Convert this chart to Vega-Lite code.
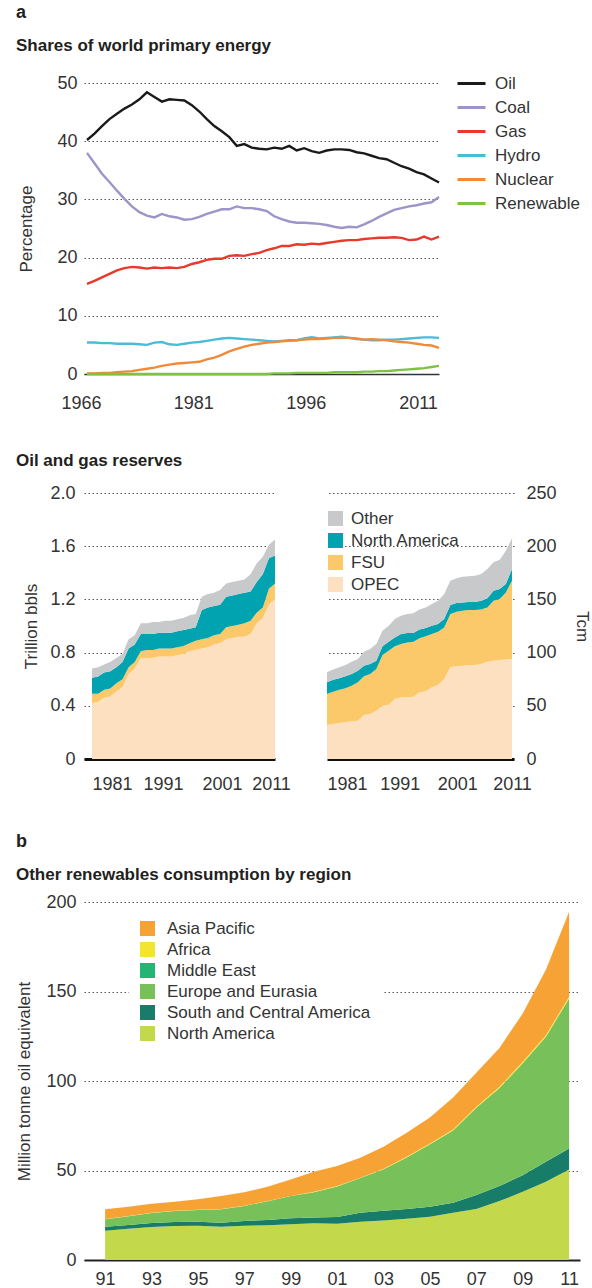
{
  "$schema": "https://vega.github.io/schema/vega-lite/v6.json",
  "background": "white",
  "padding": {"left": 15, "top": 4, "right": 4, "bottom": 0},
  "spacing": 40,
  "resolve": {"scale": {"color": "independent"}, "legend": {"color": "independent"}},
  "config": {
    "view": {"stroke": null},
    "font": "Liberation Sans",
    "axis": {
      "labelFont": "Liberation Sans", "labelFontSize": 18, "labelColor": "#333333", "labelFlush": false,
      "titleFont": "Liberation Sans", "titleFontSize": 17, "titleFontWeight": "normal", "titleColor": "#333333",
      "gridColor": "#555555", "gridDash": [1.5, 2.5], "gridWidth": 1,
      "ticks": false, "domain": false
    },
    "title": {
      "font": "Liberation Sans", "fontSize": 18, "fontWeight": "bold", "color": "#231f20", "anchor": "start",
      "subtitleFont": "Liberation Sans", "subtitleFontSize": 17, "subtitleFontWeight": "bold", "subtitleColor": "#231f20"
    },
    "legend": {"labelFont": "Liberation Sans", "labelFontSize": 17, "labelColor": "#333333", "labelLimit": 300}
  },
  "datasets": {
    "shares": [
      {"year": 1966, "Oil": 40.2, "Coal": 38.0, "Gas": 15.5, "Hydro": 5.4, "Nuclear": 0.1, "Renewable": 0.0},
      {"year": 1967, "Oil": 41.3, "Coal": 36.2, "Gas": 16.0, "Hydro": 5.4, "Nuclear": 0.1, "Renewable": 0.0},
      {"year": 1968, "Oil": 42.6, "Coal": 34.4, "Gas": 16.6, "Hydro": 5.3, "Nuclear": 0.2, "Renewable": 0.0},
      {"year": 1969, "Oil": 43.8, "Coal": 33.0, "Gas": 17.2, "Hydro": 5.3, "Nuclear": 0.2, "Renewable": 0.0},
      {"year": 1970, "Oil": 44.7, "Coal": 31.5, "Gas": 17.8, "Hydro": 5.2, "Nuclear": 0.3, "Renewable": 0.0},
      {"year": 1971, "Oil": 45.6, "Coal": 30.1, "Gas": 18.2, "Hydro": 5.2, "Nuclear": 0.4, "Renewable": 0.0},
      {"year": 1972, "Oil": 46.3, "Coal": 28.8, "Gas": 18.4, "Hydro": 5.2, "Nuclear": 0.5, "Renewable": 0.0},
      {"year": 1973, "Oil": 47.2, "Coal": 27.8, "Gas": 18.3, "Hydro": 5.1, "Nuclear": 0.7, "Renewable": 0.0},
      {"year": 1974, "Oil": 48.4, "Coal": 27.2, "Gas": 18.1, "Hydro": 5.0, "Nuclear": 0.9, "Renewable": 0.0},
      {"year": 1975, "Oil": 47.6, "Coal": 26.9, "Gas": 18.3, "Hydro": 5.4, "Nuclear": 1.1, "Renewable": 0.0},
      {"year": 1976, "Oil": 46.8, "Coal": 27.5, "Gas": 18.2, "Hydro": 5.5, "Nuclear": 1.4, "Renewable": 0.0},
      {"year": 1977, "Oil": 47.2, "Coal": 27.1, "Gas": 18.3, "Hydro": 5.1, "Nuclear": 1.6, "Renewable": 0.0},
      {"year": 1978, "Oil": 47.1, "Coal": 26.9, "Gas": 18.2, "Hydro": 5.0, "Nuclear": 1.8, "Renewable": 0.0},
      {"year": 1979, "Oil": 47.0, "Coal": 26.5, "Gas": 18.4, "Hydro": 5.2, "Nuclear": 1.9, "Renewable": 0.0},
      {"year": 1980, "Oil": 46.2, "Coal": 26.6, "Gas": 18.9, "Hydro": 5.4, "Nuclear": 2.0, "Renewable": 0.0},
      {"year": 1981, "Oil": 45.1, "Coal": 27.0, "Gas": 19.2, "Hydro": 5.5, "Nuclear": 2.1, "Renewable": 0.0},
      {"year": 1982, "Oil": 43.8, "Coal": 27.5, "Gas": 19.6, "Hydro": 5.7, "Nuclear": 2.5, "Renewable": 0.0},
      {"year": 1983, "Oil": 42.6, "Coal": 27.9, "Gas": 19.8, "Hydro": 5.9, "Nuclear": 2.8, "Renewable": 0.0},
      {"year": 1984, "Oil": 41.7, "Coal": 28.3, "Gas": 19.8, "Hydro": 6.1, "Nuclear": 3.3, "Renewable": 0.0},
      {"year": 1985, "Oil": 40.7, "Coal": 28.3, "Gas": 20.3, "Hydro": 6.2, "Nuclear": 3.9, "Renewable": 0.0},
      {"year": 1986, "Oil": 39.2, "Coal": 28.8, "Gas": 20.4, "Hydro": 6.1, "Nuclear": 4.3, "Renewable": 0.0},
      {"year": 1987, "Oil": 39.5, "Coal": 28.5, "Gas": 20.3, "Hydro": 6.0, "Nuclear": 4.7, "Renewable": 0.0},
      {"year": 1988, "Oil": 38.9, "Coal": 28.5, "Gas": 20.6, "Hydro": 5.9, "Nuclear": 5.0, "Renewable": 0.0},
      {"year": 1989, "Oil": 38.7, "Coal": 28.3, "Gas": 20.8, "Hydro": 5.8, "Nuclear": 5.2, "Renewable": 0.0},
      {"year": 1990, "Oil": 38.6, "Coal": 28.0, "Gas": 21.3, "Hydro": 5.7, "Nuclear": 5.4, "Renewable": 0.0},
      {"year": 1991, "Oil": 38.9, "Coal": 27.1, "Gas": 21.6, "Hydro": 5.6, "Nuclear": 5.5, "Renewable": 0.1},
      {"year": 1992, "Oil": 38.7, "Coal": 26.6, "Gas": 22.0, "Hydro": 5.7, "Nuclear": 5.6, "Renewable": 0.1},
      {"year": 1993, "Oil": 39.2, "Coal": 26.2, "Gas": 22.0, "Hydro": 5.8, "Nuclear": 5.7, "Renewable": 0.1},
      {"year": 1994, "Oil": 38.4, "Coal": 26.0, "Gas": 22.3, "Hydro": 5.8, "Nuclear": 5.8, "Renewable": 0.2},
      {"year": 1995, "Oil": 38.8, "Coal": 26.0, "Gas": 22.2, "Hydro": 6.1, "Nuclear": 5.9, "Renewable": 0.2},
      {"year": 1996, "Oil": 38.3, "Coal": 25.9, "Gas": 22.4, "Hydro": 6.3, "Nuclear": 6.0, "Renewable": 0.2},
      {"year": 1997, "Oil": 38.0, "Coal": 25.8, "Gas": 22.3, "Hydro": 6.1, "Nuclear": 6.0, "Renewable": 0.2},
      {"year": 1998, "Oil": 38.4, "Coal": 25.6, "Gas": 22.5, "Hydro": 6.2, "Nuclear": 6.1, "Renewable": 0.2},
      {"year": 1999, "Oil": 38.6, "Coal": 25.3, "Gas": 22.7, "Hydro": 6.3, "Nuclear": 6.2, "Renewable": 0.3},
      {"year": 2000, "Oil": 38.6, "Coal": 25.1, "Gas": 22.9, "Hydro": 6.4, "Nuclear": 6.2, "Renewable": 0.3},
      {"year": 2001, "Oil": 38.5, "Coal": 25.3, "Gas": 23.0, "Hydro": 6.2, "Nuclear": 6.2, "Renewable": 0.3},
      {"year": 2002, "Oil": 38.1, "Coal": 25.2, "Gas": 23.0, "Hydro": 6.0, "Nuclear": 6.1, "Renewable": 0.3},
      {"year": 2003, "Oil": 37.9, "Coal": 25.7, "Gas": 23.2, "Hydro": 5.9, "Nuclear": 5.9, "Renewable": 0.4},
      {"year": 2004, "Oil": 37.5, "Coal": 26.3, "Gas": 23.3, "Hydro": 5.8, "Nuclear": 6.0, "Renewable": 0.4},
      {"year": 2005, "Oil": 37.1, "Coal": 27.0, "Gas": 23.4, "Hydro": 5.8, "Nuclear": 5.9, "Renewable": 0.5},
      {"year": 2006, "Oil": 36.9, "Coal": 27.6, "Gas": 23.4, "Hydro": 5.9, "Nuclear": 5.8, "Renewable": 0.5},
      {"year": 2007, "Oil": 36.3, "Coal": 28.2, "Gas": 23.5, "Hydro": 5.9, "Nuclear": 5.6, "Renewable": 0.6},
      {"year": 2008, "Oil": 35.7, "Coal": 28.5, "Gas": 23.4, "Hydro": 6.0, "Nuclear": 5.5, "Renewable": 0.7},
      {"year": 2009, "Oil": 35.3, "Coal": 28.8, "Gas": 23.0, "Hydro": 6.1, "Nuclear": 5.4, "Renewable": 0.8},
      {"year": 2010, "Oil": 34.7, "Coal": 29.0, "Gas": 23.1, "Hydro": 6.2, "Nuclear": 5.2, "Renewable": 0.9},
      {"year": 2011, "Oil": 34.3, "Coal": 29.3, "Gas": 23.6, "Hydro": 6.3, "Nuclear": 5.0, "Renewable": 1.0},
      {"year": 2012, "Oil": 33.6, "Coal": 29.5, "Gas": 23.1, "Hydro": 6.3, "Nuclear": 4.9, "Renewable": 1.2},
      {"year": 2013, "Oil": 32.9, "Coal": 30.4, "Gas": 23.6, "Hydro": 6.2, "Nuclear": 4.5, "Renewable": 1.4}
    ],
    "oilReserves": [
      {"year": 1981, "OPEC": 0.42, "FSU": 0.07, "North America": 0.12, "Other": 0.07},
      {"year": 1982, "OPEC": 0.43, "FSU": 0.06, "North America": 0.13, "Other": 0.07},
      {"year": 1983, "OPEC": 0.46, "FSU": 0.06, "North America": 0.13, "Other": 0.06},
      {"year": 1984, "OPEC": 0.47, "FSU": 0.06, "North America": 0.13, "Other": 0.07},
      {"year": 1985, "OPEC": 0.51, "FSU": 0.06, "North America": 0.12, "Other": 0.07},
      {"year": 1986, "OPEC": 0.54, "FSU": 0.06, "North America": 0.13, "Other": 0.06},
      {"year": 1987, "OPEC": 0.64, "FSU": 0.05, "North America": 0.14, "Other": 0.07},
      {"year": 1988, "OPEC": 0.68, "FSU": 0.05, "North America": 0.13, "Other": 0.07},
      {"year": 1989, "OPEC": 0.76, "FSU": 0.05, "North America": 0.13, "Other": 0.08},
      {"year": 1990, "OPEC": 0.76, "FSU": 0.06, "North America": 0.12, "Other": 0.08},
      {"year": 1991, "OPEC": 0.76, "FSU": 0.06, "North America": 0.12, "Other": 0.09},
      {"year": 1992, "OPEC": 0.77, "FSU": 0.06, "North America": 0.12, "Other": 0.08},
      {"year": 1993, "OPEC": 0.77, "FSU": 0.06, "North America": 0.12, "Other": 0.09},
      {"year": 1994, "OPEC": 0.77, "FSU": 0.06, "North America": 0.12, "Other": 0.09},
      {"year": 1995, "OPEC": 0.78, "FSU": 0.06, "North America": 0.12, "Other": 0.09},
      {"year": 1996, "OPEC": 0.79, "FSU": 0.06, "North America": 0.12, "Other": 0.09},
      {"year": 1997, "OPEC": 0.81, "FSU": 0.06, "North America": 0.11, "Other": 0.10},
      {"year": 1998, "OPEC": 0.82, "FSU": 0.07, "North America": 0.10, "Other": 0.10},
      {"year": 1999, "OPEC": 0.83, "FSU": 0.07, "North America": 0.22, "Other": 0.10},
      {"year": 2000, "OPEC": 0.84, "FSU": 0.07, "North America": 0.23, "Other": 0.10},
      {"year": 2001, "OPEC": 0.86, "FSU": 0.07, "North America": 0.22, "Other": 0.10},
      {"year": 2002, "OPEC": 0.87, "FSU": 0.07, "North America": 0.22, "Other": 0.11},
      {"year": 2003, "OPEC": 0.90, "FSU": 0.09, "North America": 0.23, "Other": 0.10},
      {"year": 2004, "OPEC": 0.91, "FSU": 0.09, "North America": 0.23, "Other": 0.10},
      {"year": 2005, "OPEC": 0.92, "FSU": 0.09, "North America": 0.23, "Other": 0.10},
      {"year": 2006, "OPEC": 0.92, "FSU": 0.10, "North America": 0.23, "Other": 0.10},
      {"year": 2007, "OPEC": 0.94, "FSU": 0.10, "North America": 0.22, "Other": 0.13},
      {"year": 2008, "OPEC": 1.02, "FSU": 0.08, "North America": 0.23, "Other": 0.14},
      {"year": 2009, "OPEC": 1.06, "FSU": 0.08, "North America": 0.25, "Other": 0.13},
      {"year": 2010, "OPEC": 1.16, "FSU": 0.12, "North America": 0.23, "Other": 0.10},
      {"year": 2011, "OPEC": 1.20, "FSU": 0.12, "North America": 0.21, "Other": 0.12}
    ],
    "gasReserves": [
      {"year": 1981, "OPEC": 32.0, "FSU": 29.1, "North America": 11.0, "Other": 9.4},
      {"year": 1982, "OPEC": 32.9, "FSU": 30.4, "North America": 11.3, "Other": 9.4},
      {"year": 1983, "OPEC": 33.8, "FSU": 31.4, "North America": 10.6, "Other": 10.4},
      {"year": 1984, "OPEC": 34.5, "FSU": 31.9, "North America": 11.3, "Other": 10.6},
      {"year": 1985, "OPEC": 35.4, "FSU": 33.5, "North America": 11.0, "Other": 11.6},
      {"year": 1986, "OPEC": 36.0, "FSU": 36.1, "North America": 10.9, "Other": 11.0},
      {"year": 1987, "OPEC": 41.4, "FSU": 36.3, "North America": 10.0, "Other": 13.2},
      {"year": 1988, "OPEC": 42.3, "FSU": 37.6, "North America": 9.4, "Other": 14.1},
      {"year": 1989, "OPEC": 45.4, "FSU": 39.2, "North America": 7.8, "Other": 15.7},
      {"year": 1990, "OPEC": 50.1, "FSU": 47.6, "North America": 8.2, "Other": 14.7},
      {"year": 1991, "OPEC": 51.1, "FSU": 50.7, "North America": 8.5, "Other": 15.0},
      {"year": 1992, "OPEC": 56.4, "FSU": 49.5, "North America": 8.4, "Other": 17.3},
      {"year": 1993, "OPEC": 58.0, "FSU": 50.1, "North America": 9.4, "Other": 17.2},
      {"year": 1994, "OPEC": 58.0, "FSU": 51.6, "North America": 8.8, "Other": 17.9},
      {"year": 1995, "OPEC": 58.6, "FSU": 51.7, "North America": 8.1, "Other": 18.5},
      {"year": 1996, "OPEC": 62.7, "FSU": 50.7, "North America": 8.2, "Other": 18.8},
      {"year": 1997, "OPEC": 63.6, "FSU": 51.7, "North America": 7.8, "Other": 19.4},
      {"year": 1998, "OPEC": 67.4, "FSU": 50.1, "North America": 7.8, "Other": 20.4},
      {"year": 1999, "OPEC": 69.5, "FSU": 50.2, "North America": 7.2, "Other": 21.9},
      {"year": 2000, "OPEC": 75.2, "FSU": 48.5, "North America": 7.9, "Other": 23.5},
      {"year": 2001, "OPEC": 86.2, "FSU": 50.1, "North America": 8.4, "Other": 22.9},
      {"year": 2002, "OPEC": 87.1, "FSU": 51.4, "North America": 8.1, "Other": 23.2},
      {"year": 2003, "OPEC": 87.7, "FSU": 51.7, "North America": 7.8, "Other": 24.2},
      {"year": 2004, "OPEC": 88.3, "FSU": 51.7, "North America": 7.6, "Other": 24.1},
      {"year": 2005, "OPEC": 88.3, "FSU": 51.7, "North America": 7.6, "Other": 24.7},
      {"year": 2006, "OPEC": 89.3, "FSU": 51.1, "North America": 8.4, "Other": 25.1},
      {"year": 2007, "OPEC": 91.5, "FSU": 51.0, "North America": 8.5, "Other": 27.6},
      {"year": 2008, "OPEC": 92.4, "FSU": 56.4, "North America": 9.4, "Other": 26.6},
      {"year": 2009, "OPEC": 93.0, "FSU": 57.4, "North America": 9.4, "Other": 27.5},
      {"year": 2010, "OPEC": 93.4, "FSU": 63.2, "North America": 7.9, "Other": 31.3},
      {"year": 2011, "OPEC": 94.0, "FSU": 73.6, "North America": 11.0, "Other": 28.8}
    ],
    "reserveOrder": [
      {"region": "OPEC", "rank": 1},
      {"region": "FSU", "rank": 2},
      {"region": "North America", "rank": 3},
      {"region": "Other", "rank": 4}
    ],
    "renew": [
      {"year": 1991, "North America": 16.4, "South and Central America": 2.2, "Europe and Eurasia": 4.2, "Middle East": 0.0, "Africa": 0.1, "Asia Pacific": 5.4},
      {"year": 1992, "North America": 17.5, "South and Central America": 2.0, "Europe and Eurasia": 5.0, "Middle East": 0.0, "Africa": 0.1, "Asia Pacific": 5.2},
      {"year": 1993, "North America": 18.4, "South and Central America": 2.3, "Europe and Eurasia": 5.6, "Middle East": 0.0, "Africa": 0.1, "Asia Pacific": 5.0},
      {"year": 1994, "North America": 19.0, "South and Central America": 2.2, "Europe and Eurasia": 6.2, "Middle East": 0.0, "Africa": 0.1, "Asia Pacific": 5.1},
      {"year": 1995, "North America": 19.2, "South and Central America": 2.2, "Europe and Eurasia": 6.6, "Middle East": 0.0, "Africa": 0.1, "Asia Pacific": 5.9},
      {"year": 1996, "North America": 18.6, "South and Central America": 2.2, "Europe and Eurasia": 7.6, "Middle East": 0.0, "Africa": 0.1, "Asia Pacific": 7.2},
      {"year": 1997, "North America": 19.2, "South and Central America": 2.6, "Europe and Eurasia": 8.4, "Middle East": 0.0, "Africa": 0.1, "Asia Pacific": 7.6},
      {"year": 1998, "North America": 19.4, "South and Central America": 2.9, "Europe and Eurasia": 10.5, "Middle East": 0.0, "Africa": 0.1, "Asia Pacific": 8.0},
      {"year": 1999, "North America": 20.0, "South and Central America": 3.3, "Europe and Eurasia": 12.4, "Middle East": 0.0, "Africa": 0.1, "Asia Pacific": 9.2},
      {"year": 2000, "North America": 20.5, "South and Central America": 3.3, "Europe and Eurasia": 14.1, "Middle East": 0.0, "Africa": 0.2, "Asia Pacific": 11.2},
      {"year": 2001, "North America": 20.3, "South and Central America": 3.7, "Europe and Eurasia": 17.1, "Middle East": 0.0, "Africa": 0.2, "Asia Pacific": 11.2},
      {"year": 2002, "North America": 21.4, "South and Central America": 5.0, "Europe and Eurasia": 19.4, "Middle East": 0.0, "Africa": 0.2, "Asia Pacific": 11.1},
      {"year": 2003, "North America": 22.1, "South and Central America": 5.4, "Europe and Eurasia": 23.2, "Middle East": 0.0, "Africa": 0.3, "Asia Pacific": 12.3},
      {"year": 2004, "North America": 23.1, "South and Central America": 5.4, "Europe and Eurasia": 28.8, "Middle East": 0.0, "Africa": 0.4, "Asia Pacific": 13.4},
      {"year": 2005, "North America": 24.2, "South and Central America": 5.6, "Europe and Eurasia": 34.8, "Middle East": 0.0, "Africa": 0.5, "Asia Pacific": 14.5},
      {"year": 2006, "North America": 26.4, "South and Central America": 5.6, "Europe and Eurasia": 40.4, "Middle East": 0.0, "Africa": 0.5, "Asia Pacific": 17.9},
      {"year": 2007, "North America": 28.5, "South and Central America": 7.8, "Europe and Eurasia": 48.7, "Middle East": 0.0, "Africa": 0.6, "Asia Pacific": 19.0},
      {"year": 2008, "North America": 32.9, "South and Central America": 8.4, "Europe and Eurasia": 54.8, "Middle East": 0.0, "Africa": 0.7, "Asia Pacific": 21.7},
      {"year": 2009, "North America": 38.1, "South and Central America": 9.3, "Europe and Eurasia": 62.5, "Middle East": 0.0, "Africa": 0.8, "Asia Pacific": 27.0},
      {"year": 2010, "North America": 43.7, "South and Central America": 11.2, "Europe and Eurasia": 69.8, "Middle East": 0.0, "Africa": 0.9, "Asia Pacific": 36.6},
      {"year": 2011, "North America": 50.6, "South and Central America": 11.7, "Europe and Eurasia": 83.7, "Middle East": 0.1, "Africa": 1.0, "Asia Pacific": 47.4}
    ],
    "renewOrder": [
      {"region": "North America", "rank": 1},
      {"region": "South and Central America", "rank": 2},
      {"region": "Europe and Eurasia", "rank": 3},
      {"region": "Middle East", "rank": 4},
      {"region": "Africa", "rank": 5},
      {"region": "Asia Pacific", "rank": 6}
    ]
  },
  "vconcat": [
    {
      "title": {"text": "a", "subtitle": "Shares of world primary energy", "dx": -2, "offset": 14, "subtitlePadding": 16},
      "width": 355,
      "height": 291,
      "data": {"name": "shares"},
      "transform": [{"fold": ["Oil", "Coal", "Gas", "Hydro", "Nuclear", "Renewable"], "as": ["source", "share"]}],
      "mark": {"type": "line", "strokeWidth": 2.4},
      "encoding": {
        "x": {
          "field": "year", "type": "quantitative",
          "scale": {"domain": [1965.6, 2013], "nice": false, "zero": false},
          "axis": {"values": [1966, 1981, 1996, 2011], "format": "d", "title": null, "grid": false,
                   "domain": true, "domainColor": "#333333", "domainWidth": 1.5, "labelPadding": 20, "labelOffset": -6}
        },
        "y": {
          "field": "share", "type": "quantitative",
          "scale": {"domain": [0, 50], "nice": false},
          "axis": {"values": [0, 10, 20, 30, 40, 50], "title": "Percentage", "grid": true, "labelPadding": 7, "titlePadding": 21}
        },
        "color": {
          "field": "source", "type": "nominal",
          "scale": {"domain": ["Oil", "Coal", "Gas", "Hydro", "Nuclear", "Renewable"],
                    "range": ["#1a1a1a", "#9d95c9", "#e8392b", "#4bbcd8", "#f08a3a", "#7ec242"]},
          "legend": {"title": null, "orient": "none", "legendX": 372, "legendY": -15, "symbolType": "stroke",
                     "symbolSize": 784, "symbolStrokeWidth": 3, "labelOffset": 8, "rowPadding": 0, "labelFontSize": 17}
        }
      }
    },
    {
      "title": {"text": "Oil and gas reserves", "fontSize": 17, "dx": -7, "offset": 14},
      "resolve": {"scale": {"color": "independent"}, "legend": {"color": "independent"}},
      "hconcat": [
        {
          "width": 191,
          "height": 266,
          "data": {"name": "oilReserves"},
          "transform": [
            {"fold": ["OPEC", "FSU", "North America", "Other"], "as": ["region", "value"]},
            {"lookup": "region", "from": {"data": {"name": "reserveOrder"}, "key": "region", "fields": ["rank"]}}
          ],
          "mark": {"type": "area"},
          "encoding": {
            "x": {
              "field": "year", "type": "quantitative",
              "scale": {"domain": [1979.69, 2011], "nice": false, "zero": false},
              "axis": {"values": [1981, 1991, 2001, 2011], "format": "d", "title": null, "grid": false,
                       "domain": true, "domainColor": "#111111", "domainWidth": 3, "labelPadding": 16,
                       "labelOffset": {"condition": [
                         {"test": "datum.value === 1981", "value": 20},
                         {"test": "datum.value === 1991", "value": 10},
                         {"test": "datum.value === 2001", "value": 8}
                       ], "value": -4}}
            },
            "y": {
              "field": "value", "type": "quantitative", "stack": "zero",
              "scale": {"domain": [0, 2], "nice": false},
              "axis": {"values": [0, 0.4, 0.8, 1.2, 1.6, 2.0], "labelExpr": "datum.value === 0 ? '0' : format(datum.value, '.1f')",
                       "title": "Trillion bbls", "grid": true, "labelPadding": 9, "titlePadding": 9}
            },
            "color": {
              "field": "region", "type": "nominal",
              "scale": {"domain": ["Other", "North America", "FSU", "OPEC"], "range": ["#c8c9cb", "#00a3af", "#fcc96a", "#fde0bf"]},
              "legend": null
            },
            "order": {"field": "rank", "type": "quantitative", "sort": "ascending"}
          }
        },
        {
          "width": 187,
          "height": 266,
          "data": {"name": "gasReserves"},
          "transform": [
            {"fold": ["OPEC", "FSU", "North America", "Other"], "as": ["region", "value"]},
            {"lookup": "region", "from": {"data": {"name": "reserveOrder"}, "key": "region", "fields": ["rank"]}}
          ],
          "mark": {"type": "area"},
          "encoding": {
            "x": {
              "field": "year", "type": "quantitative",
              "scale": {"domain": [1981, 2011.32], "nice": false, "zero": false},
              "axis": {"values": [1981, 1991, 2001, 2011], "format": "d", "title": null, "grid": false,
                       "domain": true, "domainColor": "#111111", "domainWidth": 3, "labelPadding": 16, "labelFlush": true,
                       "labelOffset": {"condition": [
                         {"test": "datum.value === 1991", "value": 11},
                         {"test": "datum.value === 2001", "value": 7}
                       ], "value": 0}}
            },
            "y": {
              "field": "value", "type": "quantitative", "stack": "zero",
              "scale": {"domain": [0, 250], "nice": false},
              "axis": {"orient": "right", "values": [0, 50, 100, 150, 200, 250], "title": "Tcm", "grid": true,
                       "labelPadding": 12, "titlePadding": 16}
            },
            "color": {
              "field": "region", "type": "nominal",
              "scale": {"domain": ["Other", "North America", "FSU", "OPEC"], "range": ["#c8c9cb", "#00a3af", "#fcc96a", "#fde0bf"]},
              "legend": {"title": null, "orient": "none", "legendX": 0, "legendY": 17, "padding": 0,
                         "symbolType": "square", "symbolSize": 225, "symbolStrokeWidth": 0, "labelOffset": 7, "rowPadding": 4,
                         "labelFontSize": 17}
            },
            "order": {"field": "rank", "type": "quantitative", "sort": "ascending"}
          }
        }
      ],
      "spacing": 52,
      "bounds": "flush"
    },
    {
      "title": {"text": "b", "subtitle": "Other renewables consumption by region", "dx": 0, "offset": 10, "subtitlePadding": 16},
      "width": 496,
      "height": 358,
      "data": {"name": "renew"},
      "transform": [
        {"fold": ["North America", "South and Central America", "Europe and Eurasia", "Middle East", "Africa", "Asia Pacific"], "as": ["region", "mtoe"]},
        {"lookup": "region", "from": {"data": {"name": "renewOrder"}, "key": "region", "fields": ["rank"]}}
      ],
      "mark": {"type": "area"},
      "encoding": {
        "x": {
          "field": "year", "type": "quantitative",
          "scale": {"domain": [1990.09, 2011.47], "nice": false, "zero": false},
          "axis": {"values": [1991, 1993, 1995, 1997, 1999, 2001, 2003, 2005, 2007, 2009, 2011],
                   "labelExpr": "slice(format(datum.value, 'd'), 2)", "title": null, "grid": false,
                   "domain": true, "domainColor": "#222222", "domainWidth": 2, "labelPadding": 10}
        },
        "y": {
          "field": "mtoe", "type": "quantitative", "stack": "zero",
          "scale": {"domain": [0, 200], "nice": false},
          "axis": {"values": [0, 50, 100, 150, 200], "title": "Million tonne oil equivalent", "grid": true,
                   "labelPadding": 8, "titlePadding": 12}
        },
        "color": {
          "field": "region", "type": "nominal",
          "scale": {"domain": ["Asia Pacific", "Africa", "Middle East", "Europe and Eurasia", "South and Central America", "North America"],
                    "range": ["#f7a234", "#f3e42f", "#22b574", "#78c15a", "#177c68", "#c4d84c"]},
          "legend": {"title": null, "orient": "none", "legendX": 45, "legendY": 8, "padding": 10, "fillColor": "white",
                     "symbolType": "square", "symbolSize": 225, "symbolStrokeWidth": 0, "labelOffset": 11, "rowPadding": 3,
                     "labelFontSize": 17}
        },
        "order": {"field": "rank", "type": "quantitative", "sort": "ascending"}
      }
    }
  ]
}
